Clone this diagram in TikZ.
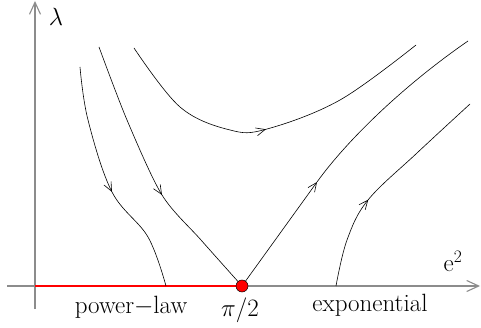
\documentclass[tikz,border=0pt]{standalone}
\usetikzlibrary{arrows.meta,decorations.markings}
\begin{document}
\begin{tikzpicture}[x=1pt,y=-1pt,
  flow/.style={line width=0.6pt,black,postaction={decorate},
    decoration={markings,mark=at position #1 with {\arrow{Straight Barb[length=9pt,width=8pt,line width=0.6pt]}}}},
  tip/.style={line width=0.6pt,black,-{Straight Barb[length=9pt,width=8pt,line width=0.6pt]}},
  curve/.style={line width=0.6pt,black},
  axis/.style={line width=1.1pt,gray!90},
  lbl/.style={font=\fontsize{25}{30}\selectfont,inner sep=0pt}]
\useasboundingbox (0,0) rectangle (481,328);
% axes
\coordinate (o) at (35,286);
\coordinate (xend) at (480,286);
\coordinate (xstart) at (7,286);
\coordinate (ytop) at (35,1);
\coordinate (ybot) at (35,309);
\coordinate (pr) at (242,286);
\draw[axis,-{Straight Barb[length=12pt,width=11pt]}] (xstart) -- (xend);
\draw[axis,-{Straight Barb[length=12pt,width=11pt]}] (ybot) -- (ytop);
\draw[red,line width=1.3pt] (o) -- (pr);
% flow lines
\draw[flow=0.54] plot[smooth,tension=0.6] coordinates {(80,67) (88,120) (112,192) (148,237) (166,286)};
\draw[flow=0.57] plot[smooth,tension=0.5] coordinates {(99,47) (127,120) (162,195) (201,240) (242,286)};
\draw[flow=0.49] plot[smooth,tension=0.6] coordinates {(134,48) (180,107) (230,130) (267,129) (340,100) (416,45)};
\coordinate (a4) at (317,182);
\coordinate (e4) at (468,41);
\draw[tip] (pr) -- (a4);
\draw[curve] (a4) .. controls (345,143) and (400,88) .. (e4);
\draw[flow=0.40] plot[smooth,tension=0.6] coordinates {(336,286) (347,240) (368,200) (417,153) (470,104)};
% fixed point
\node[circle,fill=red,draw=black,line width=0.5pt,minimum size=12pt,inner sep=0pt] (p) at (pr) {};
% labels
\node[lbl] (lam) at (56,17) {$\lambda$};
\node[lbl,anchor=base] (e2) at (453,272) {e\textsuperscript{2}};
\node[lbl,anchor=base] (pl) at (131,313) {power$-$law};
\node[lbl,anchor=base] (pi) at (240,316) {$\pi$/2};
\node[lbl,anchor=base] (ex) at (370,311) {exponential};
\end{tikzpicture}
\end{document}
